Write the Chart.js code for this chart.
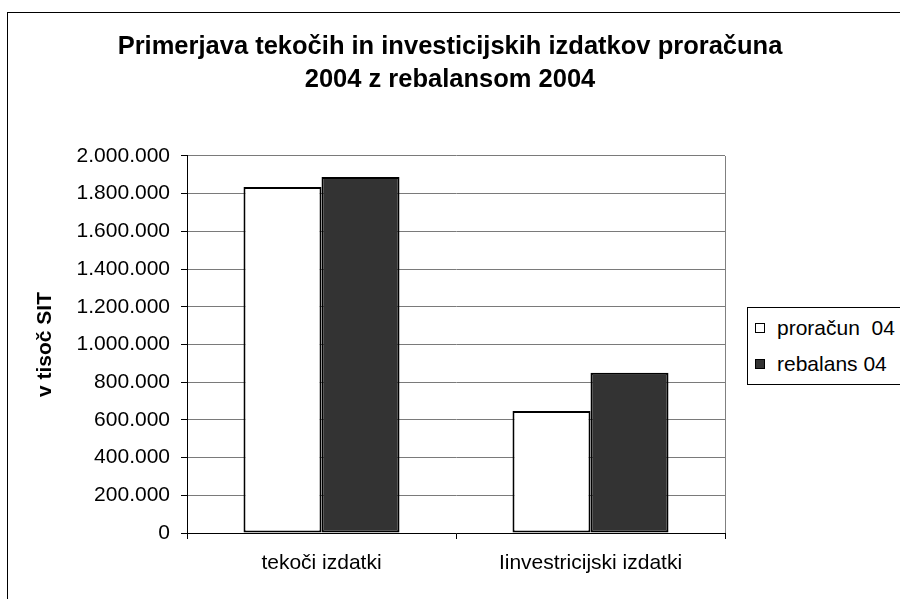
<!DOCTYPE html>
<html>
<head>
<meta charset="utf-8">
<script src="https://cdn.jsdelivr.net/npm/chart.js@4.4.1/dist/chart.umd.min.js"></script>
<style>
    body { margin: 0; background: #fff; overflow: hidden; }
    #wrap { position: relative; width: 900px; height: 599px; overflow: hidden; font-family: "Liberation Sans", Arial, sans-serif; }
    #frame { position: absolute; left: 7px; top: 12px; width: 1000px; height: 1000px; border: 1px solid #000; }
    #chart { position: absolute; left: 0; top: 0; }
    #legend { position: absolute; left: 747px; top: 307px; width: 180px; height: 76px; border: 1px solid #000; background: #fff; }
    #legend .item { position: absolute; left: 7px; height: 26px; line-height: 26px; font-size: 21px; white-space: pre; color: #000; }
    #legend .box { position: absolute; left: 0; top: 8px; width: 8px; height: 8px; border: 1px solid #000; }
    #legend .label { position: absolute; left: 22px; top: 0; }
</style>
</head>
<body>
<div id="wrap">
    <div id="frame"></div>
    <canvas id="chart" width="900" height="599"></canvas>
    <div id="legend"></div>
</div>
<script>
// Chart data
const categories = ['tekoči izdatki', 'Iinvestricijski izdatki'];
const seriesNames = ['proračun  04', 'rebalans 04'];
const proracun04 = [1836000, 647000];
const rebalans04 = [1889000, 850000];
const yTicks = [0, 200000, 400000, 600000, 800000, 1000000, 1200000, 1400000, 1600000, 1800000, 2000000];

const titleLines = ['Primerjava tekočih in investicijskih izdatkov proračuna', '2004 z rebalansom 2004'];
const yTitle = 'v tisoč SIT';

const FONT = '"Liberation Sans", Arial, sans-serif';
const fills = ['#ffffff', '#333333'];

function formatThousands(v) {
    return String(v).replace(/\B(?=(\d{3})+(?!\d))/g, '.');
}

// right edge of the plot area
const plotFrame = {
    id: 'plotFrame',
    beforeDatasetsDraw(chart) {
        const { ctx, chartArea } = chart;
        ctx.save();
        ctx.strokeStyle = '#808080';
        ctx.lineWidth = 1;
        ctx.beginPath();
        ctx.moveTo(Math.round(chartArea.right) + 0.5, chartArea.top);
        ctx.lineTo(Math.round(chartArea.right) + 0.5, chartArea.bottom);
        ctx.stroke();
        ctx.restore();
    }
};

function initializeChart() {
    Chart.defaults.font.family = FONT;
    Chart.defaults.color = '#000';

    const ctx = document.getElementById('chart').getContext('2d');
    const chart = new Chart(ctx, {
        type: 'bar',
        data: {
            labels: categories,
            datasets: [{
                label: seriesNames[0],
                data: proracun04,
                backgroundColor: fills[0],
                borderColor: '#000',
                borderWidth: 2,
                borderSkipped: false
            }, {
                label: seriesNames[1],
                data: rebalans04,
                backgroundColor: fills[1],
                borderColor: '#000',
                borderWidth: 2,
                borderSkipped: false
            }]
        },
        options: {
            responsive: false,
            animation: false,
            devicePixelRatio: 1,
            layout: { padding: 0 },
            datasets: {
                bar: { categoryPercentage: 0.58, barPercentage: 1 }
            },
            plugins: {
                legend: { display: false },
                tooltip: { enabled: false },
                title: {
                    display: true,
                    text: titleLines,
                    color: '#000',
                    font: { size: 25.5, weight: 'bold', lineHeight: 1.294 },
                    padding: { top: 30.5, bottom: 59.5 }
                }
            },
            scales: {
                x: {
                    grid: { drawOnChartArea: false, drawTicks: true, tickLength: 6, tickColor: '#000', offset: true },
                    border: { color: '#000', width: 1 },
                    ticks: { font: { size: 21 }, color: '#000', padding: 12 },
                    afterFit: s => { s.height = 66; }
                },
                y: {
                    min: 0,
                    max: 2000000,
                    afterBuildTicks: s => { s.ticks = yTicks.map(v => ({ value: v })); },
                    grid: { color: '#7a7a7a', tickLength: 6, tickColor: '#000' },
                    border: { color: '#000', width: 1 },
                    ticks: { font: { size: 21 }, color: '#000', padding: 11, callback: v => formatThousands(v) },
                    title: { display: true, text: yTitle, color: '#000', font: { size: 21, weight: 'bold' }, padding: { top: 33, bottom: 0 } },
                    afterFit: s => { s.width = 187; }
                },
                // spacer that keeps room for the legend on the right
                y2: {
                    position: 'right',
                    display: true,
                    grid: { display: false },
                    border: { display: false },
                    ticks: { display: false },
                    afterFit: s => { s.width = 175; }
                }
            }
        },
        plugins: [plotFrame]
    });

    // legend built from the datasets
    const legend = document.getElementById('legend');
    chart.data.datasets.forEach((ds, i) => {
        const item = document.createElement('div');
        item.className = 'item';
        item.style.top = (7 + i * 36) + 'px';
        item.innerHTML = '<span class="box"></span><span class="label"></span>';
        item.querySelector('.box').style.background = ds.backgroundColor;
        item.querySelector('.label').textContent = ds.label;
        legend.appendChild(item);
    });
}

document.addEventListener('DOMContentLoaded', initializeChart);
</script>
</body>
</html>
